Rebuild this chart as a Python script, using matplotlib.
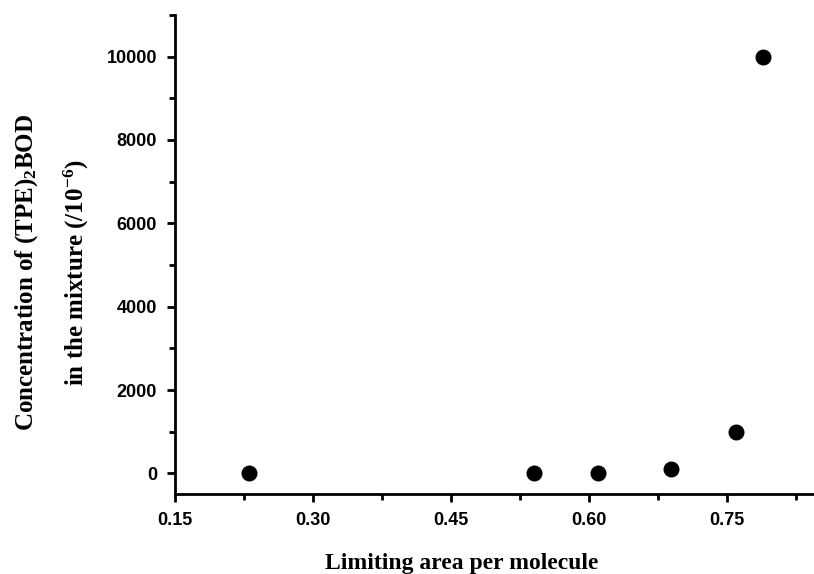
import numpy as np
import matplotlib
matplotlib.use("Agg")
from matplotlib import pyplot as plt
from matplotlib.ticker import MultipleLocator

# datos
area = [0.23, 0.54, 0.61, 0.69, 0.76, 0.79]
concentracion = [0, 1, 10, 100, 1000, 10000]

plt.rcParams['mathtext.fontset'] = 'custom'
plt.rcParams['mathtext.rm'] = 'Liberation Serif:bold'
plt.rcParams['mathtext.it'] = 'Liberation Serif:bold'
plt.rcParams['mathtext.bf'] = 'Liberation Serif:bold'

fig = plt.figure(figsize=(8.14, 5.74), dpi=100)
ax = fig.add_axes([0.215, 0.139, 0.785, 0.835])

ax.plot(area, concentracion, 'o', color='black', markersize=10.5, linestyle='none')

ax.set_xlim(0.15, 0.845)
ax.set_ylim(-500, 11000)
ax.xaxis.set_minor_locator(MultipleLocator(0.075))
ax.yaxis.set_major_locator(MultipleLocator(2000))
ax.yaxis.set_minor_locator(MultipleLocator(1000))
ax.set_xticks([0.15, 0.30, 0.45, 0.60, 0.75])
ax.set_xticklabels(['0.15', '0.30', '0.45', '0.60', '0.75'])

for s in ['top', 'right']:
    ax.spines[s].set_visible(False)
for s in ['left', 'bottom']:
    ax.spines[s].set_linewidth(2)

ax.tick_params(which='major', direction='out', length=6, width=2, pad=7)
ax.tick_params(which='minor', direction='out', length=4, width=2)
for lab in ax.get_xticklabels() + ax.get_yticklabels():
    lab.set_fontfamily('Liberation Sans')
    lab.set_fontweight('bold')
    lab.set_fontsize(13)

ax.set_xlabel('Limiting area per molecule', fontfamily='Liberation Serif',
              fontweight='bold', fontsize=17)
ax.xaxis.set_label_coords(0.448, -0.122)
ax.set_ylabel('Concentration of (TPE)$_2$BOD\nin the mixture (/10$^{-6}$)',
              fontfamily='Liberation Serif', fontweight='bold', fontsize=18,
              linespacing=2.0)
ax.yaxis.set_label_coords(-0.132, 0.463)

fig.savefig('out.png', dpi=100)
